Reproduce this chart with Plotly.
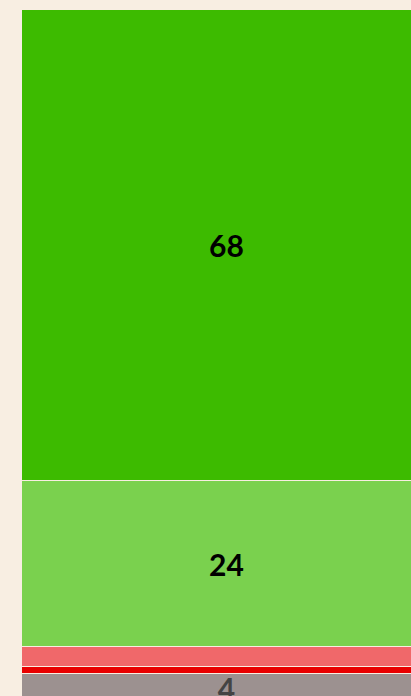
import plotly.graph_objects as go

categories = [0]
segment_names = ["68", "24", "3", "1", "4"]
segment_values = [68, 24, 3, 1, 4]
segment_labels = ["68", "24", "", "", "4"]
segment_colors = ["#3dbb00", "#7ad14e", "#f0686a", "#e80000", "#9c9190"]
label_colors = ["#000000", "#000000", "#000000", "#000000", "#444444"]

fig = go.Figure()
for name, v, lab, col, lc in zip(segment_names, segment_values, segment_labels, segment_colors, label_colors):
    fig.add_trace(go.Bar(
        x=categories, y=[v], name=name,
        marker=dict(color=col, line=dict(color="#f8eee2", width=1)),
        text=[lab], textposition="inside", insidetextanchor="middle",
        textangle=0,
        textfont=dict(family="Lato", size=30, color=lc, weight="bold"),
        constraintext="none", hoverinfo="skip",
    ))

fig.update_layout(
    barmode="stack", bargap=0,
    width=454, height=712,
    margin=dict(l=22, r=22, t=10, b=10),
    paper_bgcolor="#f8eee2", plot_bgcolor="#f8eee2",
    showlegend=False,
    xaxis=dict(visible=False, range=[-0.5, 0.5]),
    yaxis=dict(visible=False, range=[100, 0]),
)
fig.write_html(
    "out.html",
    config={"displayModeBar": False},
    post_script="document.body.style.margin='0';document.body.style.overflow='hidden';document.body.style.background='#f8eee2';",
)
